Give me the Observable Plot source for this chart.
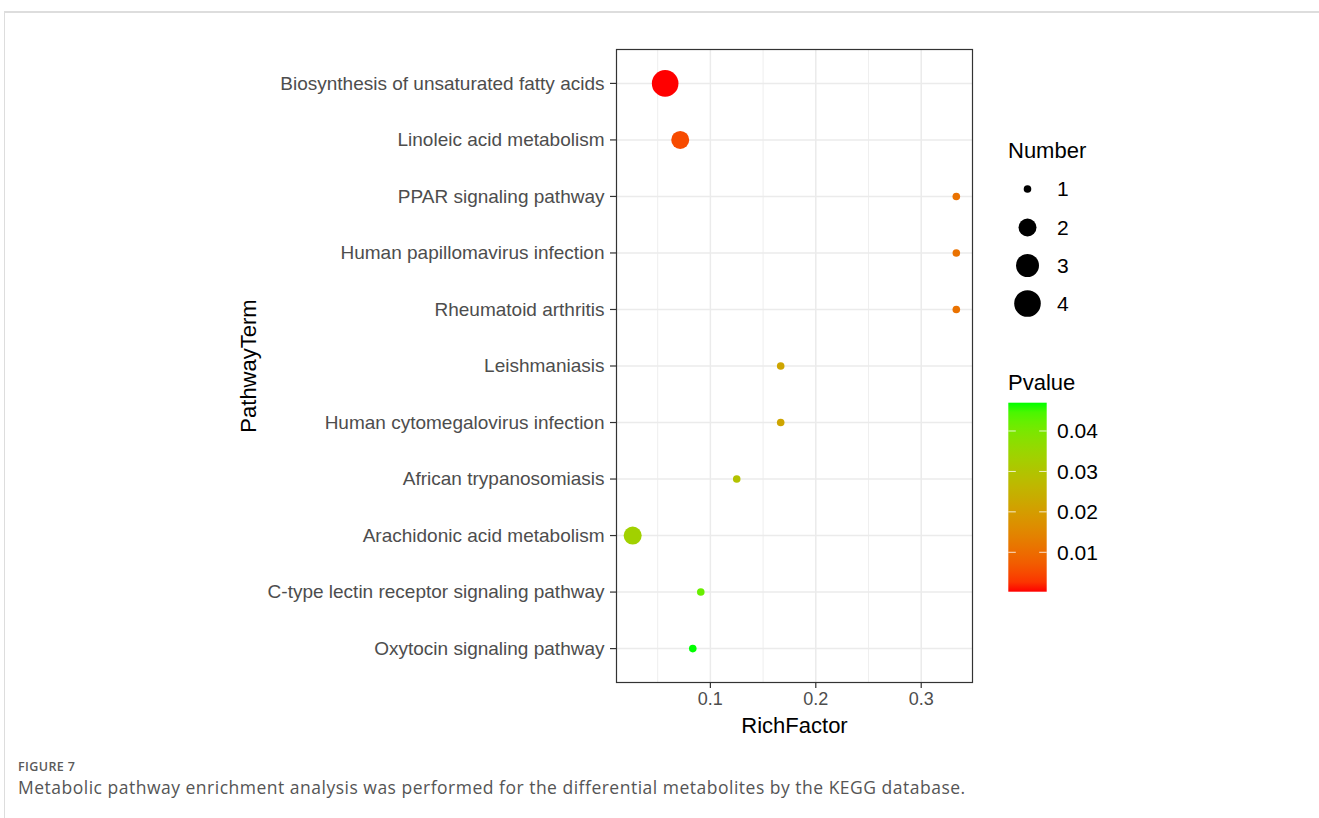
<!DOCTYPE html>
<html><head><meta charset="utf-8">
<script src="https://cdn.jsdelivr.net/npm/d3@7"></script>
<script src="https://cdn.jsdelivr.net/npm/@observablehq/plot@0.6"></script>
<style>
body{margin:0;background:#fff;}
#wrap{position:relative;width:1319px;height:818px;overflow:hidden;font-family:"Liberation Sans",Arial,sans-serif;}
#frameTop{position:absolute;left:4px;top:11px;width:1315px;height:0;border-top:2px solid #dddddd;}
#frameLeft{position:absolute;left:4px;top:11px;width:0;height:807px;border-left:1px solid #dddddd;}
#chart{position:absolute;left:0;top:0;}
#legend{position:absolute;left:0;top:0;pointer-events:none;}
#fig{position:absolute;left:18px;top:759px;font-family:"Open Sans",sans-serif;font-size:12.5px;font-weight:600;letter-spacing:0.4px;color:#5a5a5a;line-height:16px;}
#cap{position:absolute;left:18px;top:776px;font-family:"Open Sans",sans-serif;font-size:17.5px;letter-spacing:0.5px;color:#555;line-height:22px;white-space:nowrap;}
</style></head>
<body>
<div id="wrap">
  <div id="frameTop"></div>
  <div id="frameLeft"></div>
  <div id="chart"></div>
  <svg id="legend" width="1319" height="818"></svg>
  <div id="fig">FIGURE 7</div>
  <div id="cap">Metabolic pathway enrichment analysis was performed for the differential metabolites by the KEGG database.</div>
</div>
<script>
// ---- data (top to bottom) ----
const pathways = [
  "Biosynthesis of unsaturated fatty acids",
  "Linoleic acid metabolism",
  "PPAR signaling pathway",
  "Human papillomavirus infection",
  "Rheumatoid arthritis",
  "Leishmaniasis",
  "Human cytomegalovirus infection",
  "African trypanosomiasis",
  "Arachidonic acid metabolism",
  "C-type lectin receptor signaling pathway",
  "Oxytocin signaling pathway"
];
const richFactor = [0.0571, 0.0714, 0.3333, 0.3333, 0.3333, 0.1667, 0.1667, 0.125, 0.0263, 0.0909, 0.0833];
const numbers    = [4, 2, 1, 1, 1, 1, 1, 1, 2, 1, 1];
const pvalues    = [0.00025, 0.005, 0.011, 0.011, 0.011, 0.022, 0.022, 0.0295, 0.0335, 0.042, 0.047];

const xTicks = [0.1, 0.2, 0.3];
const xMinor = [0.05, 0.15, 0.25];
const sizeLegend = [1, 2, 3, 4];
const pTicks = [0.01, 0.02, 0.03, 0.04];
const sizeDomain = [1, 2, 3, 4];
const sizeRange = [3.8, 9, 11.5, 13.3];
const colorRange = ["#ff0000", "#00ff00"];

const FONT = "'Liberation Sans', Arial, Helvetica, sans-serif";
const data = pathways.map((p, i) => ({pathway: p, rich: richFactor[i], number: numbers[i], p: pvalues[i]}));
const [r0, r1] = d3.extent(richFactor);
const pad = (r1 - r0) * 0.05;
const pExtent = d3.extent(pvalues);

const chart = Plot.plot({
  width: 1319, height: 740,
  marginLeft: 616, marginRight: 347, marginTop: 49, marginBottom: 58,
  style: {fontFamily: FONT, background: "transparent", overflow: "visible"},
  x: {domain: [r0 - pad, r1 + pad]},
  y: {type: "point", domain: pathways, padding: 0.6, round: false},
  r: {type: "linear", domain: sizeDomain, range: sizeRange},
  color: {type: "linear", domain: pExtent, range: colorRange, interpolate: "lab"},
  marks: [
    Plot.gridX(xMinor, {stroke: "#ebebeb", strokeOpacity: 1, strokeWidth: 0.8}),
    Plot.gridX(xTicks, {stroke: "#ebebeb", strokeOpacity: 1, strokeWidth: 1.5}),
    Plot.gridY(pathways, {stroke: "#ebebeb", strokeOpacity: 1, strokeWidth: 1.5}),
    Plot.dot(data, {x: "rich", y: "pathway", r: "number", fill: "p", stroke: null}),
    Plot.frame({stroke: "#333333", strokeWidth: 1.2}),
    Plot.axisY({tickSize: 6, tickPadding: 6, fontSize: 19, fill: "#4d4d4d", stroke: "#333333", strokeWidth: 1.2, label: null}),
    Plot.axisX(xTicks, {tickSize: 6, tickPadding: 4, fontSize: 18, fill: "#4d4d4d", stroke: "#333333", strokeWidth: 1.2, label: null, tickFormat: d3.format(".1f")}),
    Plot.text(["RichFactor"], {frameAnchor: "bottom", dy: 43, fontSize: 22, fill: "black", lineAnchor: "middle", textAnchor: "middle"}),
    Plot.text(["PathwayTerm"], {frameAnchor: "left", dx: -368, rotate: -90, fontSize: 22, fill: "black", lineAnchor: "middle", textAnchor: "middle"})
  ]
});
document.getElementById("chart").appendChild(chart);

// ---- legends ----
const svg = d3.select("#legend").style("font-family", FONT);
const rScale = d3.scaleLinear().domain(sizeDomain).range(sizeRange);
const cScale = d3.scaleLinear().domain(pExtent).range(colorRange).interpolate(d3.interpolateLab);

svg.append("text").attr("x", 1008).attr("y", 158).attr("font-size", 22).attr("fill", "black").text("Number");
const sy = [189, 227.5, 265.5, 303.5];
sizeLegend.forEach((n, i) => {
  svg.append("circle").attr("cx", 1027.5).attr("cy", sy[i]).attr("r", rScale(n)).attr("fill", "black");
  svg.append("text").attr("x", 1057).attr("y", sy[i]).attr("dy", "0.35em").attr("font-size", 21).attr("fill", "black").text(n);
});

svg.append("text").attr("x", 1008).attr("y", 390).attr("font-size", 22).attr("fill", "black").text("Pvalue");
const barTop = 402.7, barBottom = 591.7, barX = 1008.3, barW = 38.4;
const by = d3.scaleLinear().domain(pExtent).range([barBottom, barTop]);
const defs = svg.append("defs");
const grad = defs.append("linearGradient").attr("id", "pgrad").attr("x1", 0).attr("y1", 1).attr("x2", 0).attr("y2", 0);
d3.range(0, 1.0001, 0.05).forEach(t => {
  grad.append("stop").attr("offset", t).attr("stop-color", cScale(pExtent[0] + t * (pExtent[1] - pExtent[0])));
});
svg.append("rect").attr("x", barX).attr("y", barTop).attr("width", barW).attr("height", barBottom - barTop).attr("fill", "url(#pgrad)");
pTicks.forEach(v => {
  const y = by(v);
  svg.append("line").attr("x1", barX).attr("x2", barX + 7.5).attr("y1", y).attr("y2", y).attr("stroke", "white").attr("stroke-width", 1).attr("stroke-opacity", 0.8);
  svg.append("line").attr("x1", barX + barW - 7.5).attr("x2", barX + barW).attr("y1", y).attr("y2", y).attr("stroke", "white").attr("stroke-width", 1).attr("stroke-opacity", 0.8);
  svg.append("text").attr("x", 1057).attr("y", y).attr("dy", "0.35em").attr("font-size", 21).attr("fill", "black").text(d3.format(".2f")(v));
});
</script>
</body></html>
